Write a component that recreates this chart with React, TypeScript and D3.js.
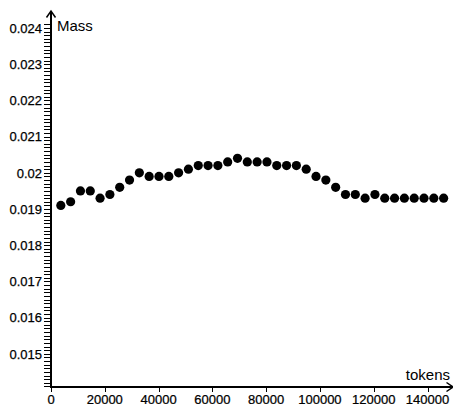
import React, { useEffect, useRef } from "react";
import * as d3 from "d3";

const tokens = [
  3650, 7300, 10950, 14600, 18250, 21900, 25550, 29200, 32850, 36500,
  40150, 43800, 47450, 51100, 54750, 58400, 62050, 65700, 69350, 73000,
  76650, 80300, 83950, 87600, 91250, 94900, 98550, 102200, 105850, 109500,
  113150, 116800, 120450, 124100, 127750, 131400, 135050, 138700, 142350, 146000,
];
const mass = [
  0.0191, 0.0192, 0.0195, 0.0195, 0.0193, 0.0194, 0.0196, 0.0198, 0.02, 0.0199,
  0.0199, 0.0199, 0.02, 0.0201, 0.0202, 0.0202, 0.0202, 0.0203, 0.0204, 0.0203,
  0.0203, 0.0203, 0.0202, 0.0202, 0.0202, 0.0201, 0.0199, 0.0198, 0.0196, 0.0194,
  0.0194, 0.0193, 0.0194, 0.0193, 0.0193, 0.0193, 0.0193, 0.0193, 0.0193, 0.0193,
];
const xTicks = [0, 20000, 40000, 60000, 80000, 100000, 120000, 140000];
const yTicks = [0.015, 0.016, 0.017, 0.018, 0.019, 0.02, 0.021, 0.022, 0.023, 0.024];

const W = 453;
const H = 404;

export default function App() {
  const ref = useRef<SVGSVGElement>(null);

  useEffect(() => {
    const svg = d3.select(ref.current);
    svg.selectAll("*").remove();

    const x = d3.scaleLinear().domain([0, 140000]).range([51, 427.5]);
    const y = d3.scaleLinear().domain([0.015, 0.024]).range([353.8, 28]);
    const axisY = 387;
    const font = "'Liberation Sans', Arial, sans-serif";

    // y axis: dense minor ticks to the left
    const minor = d3.range(141, 242).map((d) => d / 10000);
    svg
      .append("g")
      .selectAll("line")
      .data(minor)
      .enter()
      .append("line")
      .attr("x1", 44)
      .attr("x2", 51)
      .attr("y1", (d) => Math.round(y(d)) + 0.5)
      .attr("y2", (d) => Math.round(y(d)) + 0.5)
      .attr("stroke", "#000")
      .attr("stroke-width", 1);

    svg
      .append("g")
      .selectAll("text")
      .data(yTicks)
      .enter()
      .append("text")
      .attr("x", 42)
      .attr("y", (d) => y(d) + 4.7)
      .attr("text-anchor", "end")
      .attr("stroke", "#000")
      .attr("stroke-width", 0.25)
      .style("font-family", font)
      .style("font-size", "13px")
      .text((d) => String(d));

    svg
      .append("line")
      .attr("x1", 51)
      .attr("x2", 51)
      .attr("y1", 12)
      .attr("y2", axisY + 1)
      .attr("stroke", "#000")
      .attr("stroke-width", 2);
    svg
      .append("path")
      .attr("d", "M46.5,17.5 L51,11 L55.5,17.5")
      .attr("fill", "none")
      .attr("stroke", "#000")
      .attr("stroke-width", 1.5);

    // x axis
    svg
      .append("line")
      .attr("x1", 50)
      .attr("x2", 452)
      .attr("y1", axisY)
      .attr("y2", axisY)
      .attr("stroke", "#000")
      .attr("stroke-width", 2);
    svg
      .append("path")
      .attr("d", "M446.5,382.5 L453,387 L446.5,391.5")
      .attr("fill", "none")
      .attr("stroke", "#000")
      .attr("stroke-width", 1.5);

    svg
      .append("g")
      .selectAll("line")
      .data(xTicks)
      .enter()
      .append("line")
      .attr("x1", (d) => Math.round(x(d)) + 0.5)
      .attr("x2", (d) => Math.round(x(d)) + 0.5)
      .attr("y1", axisY)
      .attr("y2", axisY + 5)
      .attr("stroke", "#000")
      .attr("stroke-width", 1);

    svg
      .append("g")
      .selectAll("text")
      .data(xTicks)
      .enter()
      .append("text")
      .attr("x", (d) => x(d))
      .attr("y", 404)
      .attr("text-anchor", "middle")
      .attr("stroke", "#000")
      .attr("stroke-width", 0.25)
      .style("font-family", font)
      .style("font-size", "13px")
      .text((d) => String(d));

    svg
      .append("text")
      .attr("x", 57)
      .attr("y", 30.5)
      .style("font-family", font)
      .style("font-size", "15px")
      .text("Mass");
    svg
      .append("text")
      .attr("x", 450)
      .attr("y", 380)
      .attr("text-anchor", "end")
      .style("font-family", font)
      .style("font-size", "15px")
      .text("tokens");

    // points
    svg
      .append("g")
      .selectAll("circle")
      .data(mass)
      .enter()
      .append("circle")
      .attr("cx", (d, i) => x(tokens[i]))
      .attr("cy", (d) => y(d))
      .attr("r", 4.6)
      .attr("fill", "#000");
  }, []);

  return (
    <svg
      ref={ref}
      width={W}
      height={H}
      style={{ position: "absolute", left: 0, top: 0, background: "#fff" }}
    />
  );
}
